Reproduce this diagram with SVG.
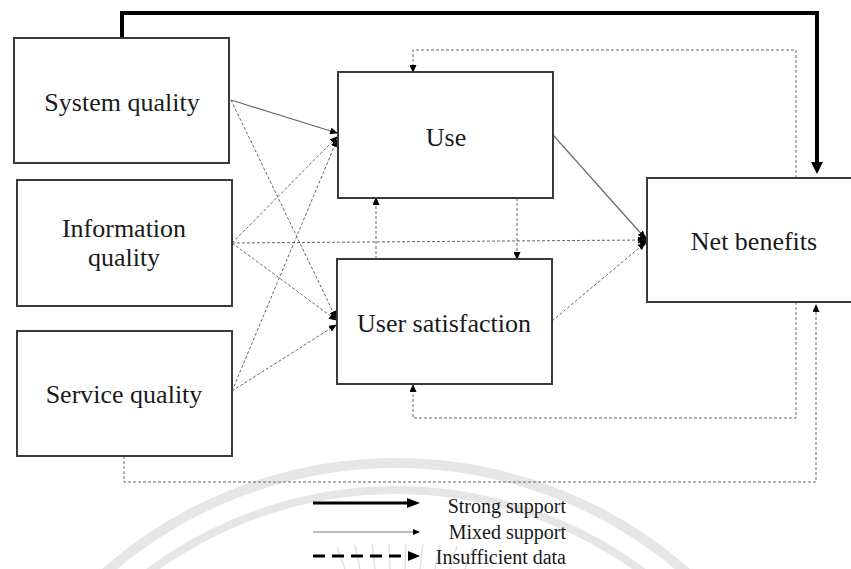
<svg xmlns="http://www.w3.org/2000/svg" width="851" height="569" viewBox="0 0 851 569">
  <style>
    .box { fill: #ffffff; stroke: #3a3a3a; stroke-width: 2; }
    .lbl { font-family: "Liberation Serif", "Times New Roman", serif; font-size: 26px; fill: #1a1a1a; text-anchor: middle; }
    .leg { font-family: "Liberation Serif", "Times New Roman", serif; font-size: 20px; fill: #1a1a1a; text-anchor: end; }
    .solid { fill: none; stroke: #6a6a6a; stroke-width: 1.2; }
    .dot { fill: none; stroke: #666666; stroke-width: 1; stroke-dasharray: 3 2; }
    .strong { fill: none; stroke: #000000; stroke-width: 4; }
    .wm { fill: none; stroke: #e6e6e6; }
  </style>
  <defs>
    <marker id="tip" markerWidth="8" markerHeight="7" refX="7" refY="3.5" orient="auto" markerUnits="userSpaceOnUse">
      <path d="M0,0 L8,3.5 L0,7 Z" fill="#000"/>
    </marker>
  </defs>

  <rect width="851" height="569" fill="#ffffff"/>

  <!-- faint seal in the background -->
  <g id="seal">
    <circle class="wm" cx="396" cy="903" r="440" stroke-width="10"/>
    <circle class="wm" cx="396" cy="903" r="413" stroke-width="8"/>
    <g stroke="#e2e2e2" stroke-width="1.5">
      <line x1="345" y1="569" x2="337" y2="547"/>
      <line x1="360" y1="569" x2="355" y2="545"/>
      <line x1="375" y1="569" x2="372" y2="544"/>
      <line x1="390" y1="569" x2="389" y2="544"/>
      <line x1="405" y1="569" x2="406" y2="544"/>
      <line x1="420" y1="569" x2="423" y2="544"/>
      <line x1="435" y1="569" x2="440" y2="545"/>
      <line x1="450" y1="569" x2="457" y2="546"/>
      <line x1="465" y1="569" x2="473" y2="548"/>
    </g>
  </g>

  <!-- connectors -->
  <g id="connectors">
    <!-- strong support: system quality to net benefits -->
    <path class="strong" d="M122,38 V13 H817 V166"/>
    <path d="M811,162 L823,162 L817,174 Z" fill="#000"/>

    <!-- into Use -->
    <line class="solid" x1="231" y1="100" x2="337" y2="133" marker-end="url(#tip)"/>
    <line class="dot" x1="232" y1="243" x2="337" y2="137" marker-end="url(#tip)"/>
    <line class="dot" x1="232" y1="391" x2="337" y2="140" marker-end="url(#tip)"/>

    <!-- into User satisfaction -->
    <line class="dot" x1="231" y1="100" x2="336" y2="318" marker-end="url(#tip)"/>
    <line class="dot" x1="232" y1="243" x2="336" y2="320" marker-end="url(#tip)"/>
    <line class="dot" x1="232" y1="391" x2="336" y2="325" marker-end="url(#tip)"/>

    <!-- into Net benefits -->
    <line class="dot" x1="232" y1="243" x2="645" y2="240" marker-end="url(#tip)"/>
    <line class="solid" x1="553" y1="135" x2="645" y2="238" marker-end="url(#tip)"/>
    <line class="dot" x1="552" y1="321" x2="645" y2="243" marker-end="url(#tip)"/>
    <ellipse cx="643" cy="240" rx="3.5" ry="6" fill="#000"/>

    <!-- Use and User satisfaction -->
    <line class="dot" x1="517" y1="198" x2="517" y2="259" marker-end="url(#tip)"/>
    <line class="dot" x1="376" y1="259" x2="376" y2="198" marker-end="url(#tip)"/>

    <!-- feedback from Net benefits -->
    <path class="dot" d="M796,178 V50 H413 V72" marker-end="url(#tip)"/>
    <path class="dot" d="M796,302 V418 H413 V385" marker-end="url(#tip)"/>

    <!-- service quality to net benefits -->
    <path class="dot" d="M124,456 V482 H816 V305" marker-end="url(#tip)"/>
  </g>

  <!-- nodes -->
  <g id="system-quality">
    <rect class="box" x="14" y="38" width="215" height="125"/>
    <text class="lbl" x="122" y="111">System quality</text>
  </g>
  <g id="information-quality">
    <rect class="box" x="17" y="180" width="215" height="126"/>
    <text class="lbl" x="124" y="237">Information</text>
    <text class="lbl" x="124" y="266">quality</text>
  </g>
  <g id="service-quality">
    <rect class="box" x="17" y="331" width="215" height="125"/>
    <text class="lbl" x="124" y="403">Service quality</text>
  </g>
  <g id="use">
    <rect class="box" x="338" y="72" width="215" height="126"/>
    <text class="lbl" x="446" y="146">Use</text>
  </g>
  <g id="user-satisfaction">
    <rect class="box" x="337" y="259" width="215" height="125"/>
    <text class="lbl" x="444" y="332">User satisfaction</text>
  </g>
  <g id="net-benefits">
    <rect class="box" x="647" y="178" width="215" height="124"/>
    <text class="lbl" x="754" y="250">Net benefits</text>
  </g>

  <!-- legend -->
  <g id="legend">
    <line x1="313" y1="503" x2="409" y2="503" stroke="#000" stroke-width="3"/>
    <path d="M407,498 L420,503 L407,508 Z" fill="#000"/>
    <line x1="313" y1="532" x2="414" y2="532" stroke="#777" stroke-width="1"/>
    <path d="M413,529 L420,532 L413,535 Z" fill="#000"/>
    <line x1="313" y1="556" x2="403" y2="556" stroke="#000" stroke-width="3" stroke-dasharray="12 7"/>
    <path d="M408,551 L420,556 L408,561 Z" fill="#000"/>
    <text class="leg" x="566" y="513">Strong support</text>
    <text class="leg" x="566" y="539">Mixed support</text>
    <text class="leg" x="566" y="564">Insufficient data</text>
  </g>
</svg>
